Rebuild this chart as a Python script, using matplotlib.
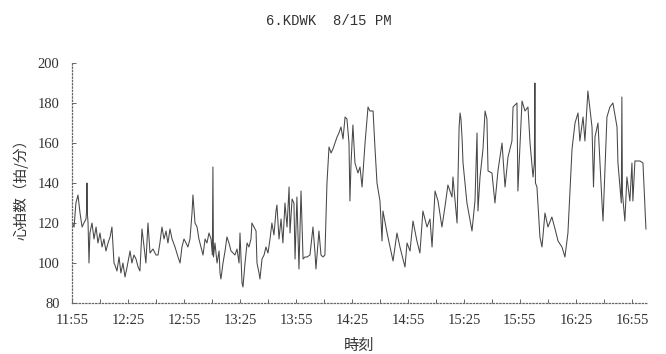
import numpy as np
import matplotlib
matplotlib.use("Agg")
from matplotlib import pyplot as plt

# minutes after 11:55 and heart rate (beats/min)
minutes = [0, 1.1, 2.1, 3.2, 4.3, 5.4, 6.4, 7.5, 7.8, 8.0, 8.3, 8.6, 9.1, 9.6, 10.7, 11.8, 12.9,
           13.9, 15.0, 16.1, 17.1, 18.2, 19.3, 20.4, 21.4, 22.5, 23.0, 24.1, 25.2, 26.2, 27.3,
           28.4, 29.5, 31.1, 32.1, 33.2, 34.3, 35.4, 36.4, 37.5, 38.6, 39.6, 40.7, 41.8, 43.4,
           45.0, 46.1, 47.1, 48.2, 49.3, 50.4, 51.4, 52.5, 53.6, 55.2, 56.8, 57.9, 58.9, 60.0,
           61.1, 62.1, 63.2, 64.3, 64.8, 65.9, 67.0, 68.0, 69.1, 70.2, 71.3, 72.3, 73.4, 74.5,
           75.2, 75.5, 75.8, 76.6, 77.7, 78.8, 79.3, 79.8, 80.9, 82.0, 83.0, 84.1, 85.2, 86.3,
           87.3, 88.4, 89.5, 90.0, 91.1, 91.6, 92.7, 93.8, 94.8, 95.9, 96.4, 97.5, 98.6, 99.1,
           100.2, 100.7, 101.8, 102.9, 103.9, 105.0, 106.1, 107.1, 108.2, 109.3, 109.8, 110.9,
           112.0, 113.0, 114.1, 115.2, 116.3, 116.8, 117.9, 118.9, 119.5, 120.5, 121.6, 122.7,
           123.8, 124.8, 125.9, 127.5, 129.1, 130.2, 130.7, 132.3, 133.4, 134.5, 135.5, 136.6,
           137.7, 138.8, 139.8, 140.9, 142.0, 143.0, 144.1, 145.2, 146.3, 147.3, 148.4, 148.9,
           149.5, 150.5, 151.6, 153.2, 154.3, 155.4, 157.0, 158.6, 159.6, 161.3, 162.3, 163.4,
           165.0, 166.1, 166.6, 168.8, 170.4, 172.0, 174.1, 175.7, 178.4, 179.5, 181.1, 182.7,
           184.8, 186.4, 188.0, 190.2, 191.8, 192.9, 194.5, 196.1, 198.2, 199.8, 201.4, 203.6,
           204.1, 206.3, 207.0, 207.4, 207.9, 208.4, 209.0, 209.5, 211.6, 214.3, 215.9, 217.0,
           217.5, 218.6, 220.2, 221.3, 222.3, 222.9, 225.0, 226.6, 228.2, 230.4, 232.0, 233.6,
           235.7, 236.3, 238.4, 238.9, 241.1, 242.7, 244.3, 245.4, 247.0, 247.7, 248.0, 248.3,
           249.1, 250.7, 251.8, 253.4, 255.0, 257.1, 258.8, 260.4, 262.5, 264.1, 265.7, 267.9,
           269.5, 271.1, 272.1, 273.8, 274.8, 276.4, 278.6, 279.4, 280.2, 281.8, 283.9, 284.5,
           286.6, 288.2, 289.8, 292.0, 292.5, 294.3, 294.6, 294.9, 296.2, 297.3, 298.9, 300.0,
           300.5, 301.6, 304.3, 305.9, 307.5]
heart_rate = [120, 118, 130, 134, 125, 118, 120, 122, 126, 140, 124, 120, 100, 115, 120, 112, 118,
              110, 115, 108, 112, 106, 110, 113, 118, 100, 99, 96, 103, 95, 100,
              93, 98, 106, 100, 104, 102, 98, 96, 117, 108, 100, 120, 105, 107,
              104, 104, 110, 118, 112, 116, 110, 117, 112, 108, 103, 100, 108, 112,
              110, 108, 112, 125, 134, 120, 118, 112, 108, 104, 112, 110, 115, 112,
              104, 148, 103, 110, 100, 106, 95, 92, 100, 106, 113, 110, 106, 105,
              104, 107, 100, 115, 90, 88, 100, 110, 108, 112, 120, 118, 116, 100,
              95, 92, 102, 104, 108, 105, 112, 120, 114, 126, 129, 112,
              122, 110, 130, 118, 138, 115, 132, 130, 102, 133, 97, 136,
              102, 103, 103, 104, 118, 105, 97, 116, 104, 103, 104, 140,
              158, 155, 157, 160, 163, 165, 168, 162, 173, 172, 160, 131,
              150, 169, 150, 145, 148, 138, 160, 178, 176, 176, 158, 140,
              131, 111, 126, 115, 108, 101, 115, 108, 98, 110, 106, 121,
              111, 105, 126, 118, 122, 108, 136, 131, 118, 128, 139, 133,
              143, 120, 150, 168, 175, 172, 162, 150, 130, 116, 131, 165,
              126, 143, 157, 176, 172, 146, 145, 130, 146, 160, 138, 153,
              161, 178, 180, 136, 181, 176, 178, 160, 143, 150, 190, 140,
              138, 113, 108, 125, 118, 123, 117, 111, 108, 103, 115, 157,
              170, 175, 161, 173, 161, 186, 168, 138, 163, 170, 131, 121,
              173, 178, 180, 168, 150, 130, 183, 135, 121, 143, 131, 150,
              131, 151, 151, 150, 117]

tick_pos = [0, 30, 60, 90, 120, 150, 180, 210, 240, 270, 300]
tick_labels = ["11:55", "12:25", "12:55", "13:25", "13:55", "14:25",
               "14:55", "15:25", "15:55", "16:25", "16:55"]
y_ticks = [80, 100, 120, 140, 160, 180, 200]

cjk = ["Noto Sans CJK JP", "DejaVu Sans"]

fig = plt.figure(figsize=(6.66, 3.54), dpi=100)
ax = fig.add_axes([72 / 666, 51 / 354, 576 / 666, 240 / 354])

ax.plot(minutes, heart_rate, color="#474747", lw=0.75)

ax.set_xlim(0, 308.6)
ax.set_ylim(80, 200)
ax.set_xticks(tick_pos)
ax.set_xticklabels(tick_labels, family="Liberation Serif", fontsize=10.5, color="#333")
ax.set_xticks(np.arange(15, 309, 30), minor=True)
ax.set_yticks(y_ticks)
ax.set_yticklabels([str(v) for v in y_ticks], family="Liberation Serif", fontsize=10.5, color="#333")
ax.tick_params(which="both", direction="in", length=3, width=0.7, color="#666")
ax.tick_params(axis="x", pad=8)
ax.tick_params(axis="y", pad=9)

for s in ["top", "right"]:
    ax.spines[s].set_visible(False)
for s in ["left", "bottom"]:
    ax.spines[s].set_color("#666")
    ax.spines[s].set_linewidth(0.9)
    ax.spines[s].set_linestyle(":")

fig.text(329 / 666, 1 - 21 / 354, "6.KDWK  8/15 PM", family="Liberation Mono",
         fontsize=10, ha="center", va="center", color="#333")
fig.text(21 / 666, 1 - 186 / 354, "心拍数（拍/分）", family=cjk, fontsize=10.5,
         rotation=90, ha="center", va="center", color="#333")
fig.text(359 / 666, 1 - 345 / 354, "時刻", family=cjk, fontsize=11,
         ha="center", va="center", color="#333")

fig.savefig("out.png", dpi=100)
